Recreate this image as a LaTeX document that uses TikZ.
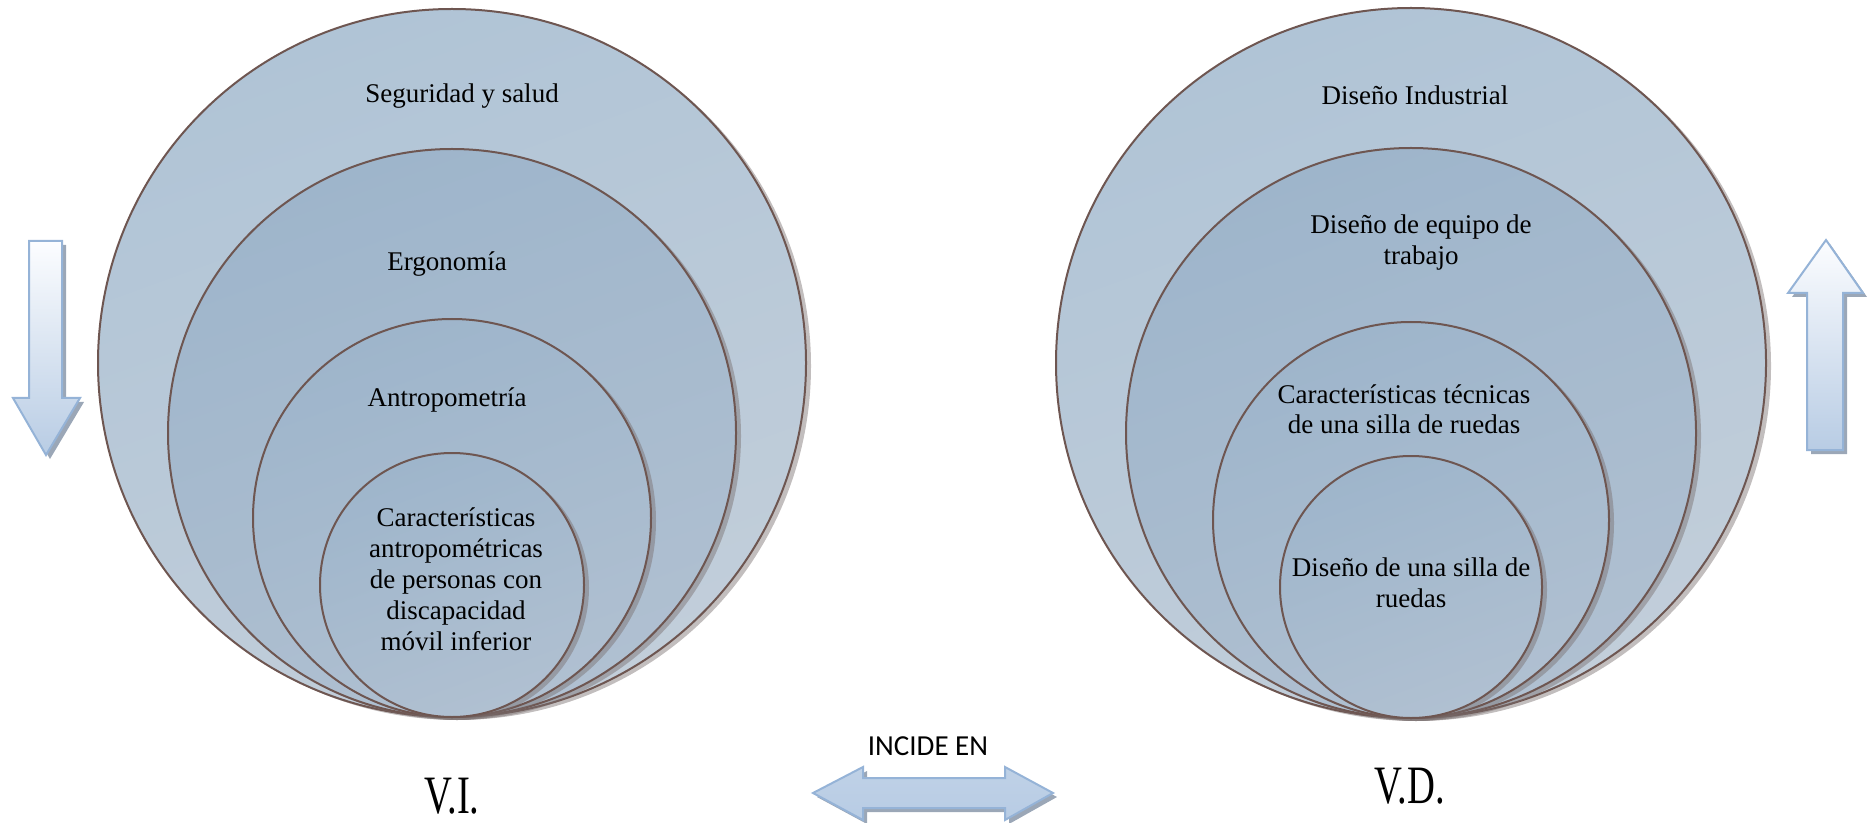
\documentclass[tikz,border=0pt]{standalone}
\usepackage{graphicx}
\usepackage{fontspec}
\setmainfont{Liberation Serif}
\newfontfamily\incidefont{Carlito}
\usetikzlibrary{shadows}
\definecolor{ringedge}{RGB}{110,86,81}
\definecolor{outertop}{RGB}{176,196,214}
\definecolor{outerbot}{RGB}{194,206,218}
\definecolor{innertop}{RGB}{158,181,203}
\definecolor{innerbot}{RGB}{176,192,209}
\definecolor{ringshadow}{RGB}{120,110,110}
\definecolor{arrowline}{RGB}{149,179,215}
\definecolor{arrowtop}{RGB}{252,253,255}
\definecolor{arrowbot}{RGB}{184,204,228}
\definecolor{arrowshadow}{RGB}{130,145,165}

\begin{document}
\begin{tikzpicture}[
    x=0.5pt, y=-0.5pt,
    ring/.style={circle, draw=ringedge, line width=1pt, inner sep=0pt,
      drop shadow={shadow xshift=2.5pt, shadow yshift=-1.5pt, fill=ringshadow, opacity=0.45}},
    outerring/.style={ring, top color=outertop, bottom color=outerbot, shading angle=20},
    innerring/.style={ring, top color=innertop, bottom color=innerbot, shading angle=20},
    ringtext/.style={font=\fontsize{13.5}{15.5}\selectfont, align=center, anchor=base, inner sep=0pt},
    vartext/.style={font=\fontsize{19.3}{22}\selectfont, anchor=base, inner sep=0pt},
    arrowbox/.style={draw=arrowline, line width=1pt, line join=miter,
      drop shadow={shadow xshift=2pt, shadow yshift=-2pt, fill=arrowshadow, opacity=0.8}}
]
\useasboundingbox (0,0) rectangle (1873,823);

% V.I. circles
\node[outerring, minimum size=354pt] (seg) at (452,363) {};
\node[innerring, minimum size=284pt] (ergo) at (452,433) {};
\node[innerring, minimum size=199pt] (antro) at (452,518) {};
\node[innerring, minimum size=132pt] (caract) at (452,585) {};

% V.D. circles
\node[outerring, minimum size=355pt] (indus) at (1411,363) {};
\node[innerring, minimum size=285pt] (equipo) at (1411,433) {};
\node[innerring, minimum size=198pt] (tecn) at (1411,520) {};
\node[innerring, minimum size=131pt] (silla) at (1411,587) {};

% Texts (base = last line)
\node[ringtext] (segtxt) at (462,103) {Seguridad y salud};
\node[ringtext] (ergotxt) at (447,271) {Ergonomía};
\node[ringtext] (antrotxt) at (447,407) {Antropometría};
\node[ringtext] (caracttxt) at (456,650) {Características\\antropométricas\\de personas con\\discapacidad\\móvil inferior};
\node[ringtext] (industxt) at (1415,105) {Diseño Industrial};
\node[ringtext] (equipotxt) at (1421,265) {Diseño de equipo de\\trabajo};
\node[ringtext] (tecntxt) at (1404,434) {Características técnicas\\de una silla de ruedas};
\node[ringtext] (sillatxt) at (1411,607) {Diseño de una silla de\\ruedas};

\node[vartext] (vi) at (452,813) {\scalebox{1}[1.4]{V.I.}};
\node[vartext] (vd) at (1410,803) {\scalebox{1}[1.4]{V.D.}};
\node[font=\incidefont\fontsize{14.5}{16}\selectfont, anchor=base, inner sep=0pt] (incide) at (928,755) {INCIDE EN};

% Arrows
\draw[arrowbox, top color=arrowtop, bottom color=arrowbot]
  (29,241) -- (62,241) -- (62,398) -- (80,398) -- (46,455) -- (13,398) -- (29,398) -- cycle;
\draw[arrowbox, top color=arrowtop, bottom color=arrowbot]
  (1826,240) -- (1863,293) -- (1843,293) -- (1843,450) -- (1807,450) -- (1807,293) -- (1788,293) -- cycle;
\draw[arrowbox, top color=arrowbot!90!white, middle color=arrowtop!30!arrowbot, bottom color=arrowbot]
  (813,793) -- (863,767) -- (863,778) -- (1005,778) -- (1005,767) -- (1053,793)
  -- (1005,820) -- (1005,808) -- (863,808) -- (863,820) -- cycle;

\end{tikzpicture}
\end{document}
